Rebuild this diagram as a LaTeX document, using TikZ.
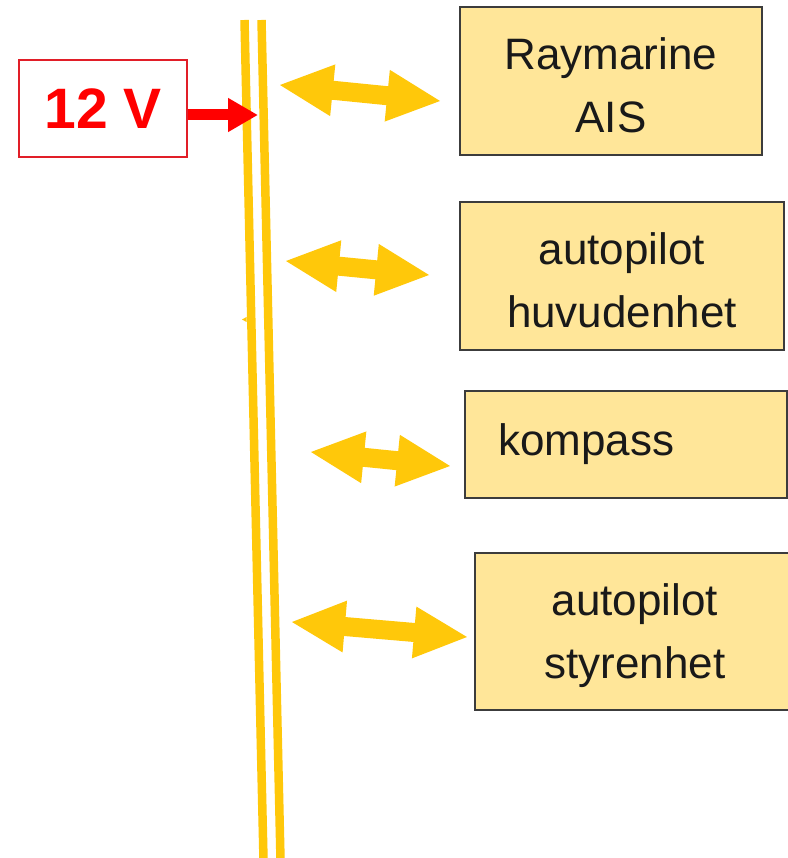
\documentclass[tikz,border=0pt]{standalone}
\usepackage{fontspec}
\setmainfont{Liberation Sans}
\usetikzlibrary{arrows.meta,calc}
\definecolor{busyellow}{RGB}{255,200,10}
\definecolor{boxfill}{RGB}{255,230,153}
\definecolor{boxline}{RGB}{60,60,60}
\definecolor{vred}{RGB}{255,0,0}
\definecolor{vbox}{RGB}{225,30,40}
\newcommand\topstrut{\rule{0pt}{40pt}}
\tikzset{
  devbox/.style={draw=boxline, fill=boxfill, line width=1.3pt, inner sep=0pt,
    align=center, text=black!90, font=\fontsize{44}{63.5}\selectfont},
  busline/.style={draw=busyellow, line width=8.5pt},
  powerbox/.style={draw=vbox, line width=1.3pt, minimum width=168pt,
    minimum height=97pt, inner sep=0pt, text=vred,
    font=\fontsize{57}{60}\selectfont\bfseries},
  feed/.style={draw=vred, line width=11pt,
    -{Triangle[length=30pt 0 0, width=32pt 0 0]}},
}
\newcommand\dblarrow[3]{\fill[busyellow, shift={(#1)}, rotate=#2]
  (0,0) -- (53,26) -- (53,9.5) -- ({#3-53},9.5) -- ({#3-53},26) -- (#3,0)
  -- ({#3-53},-26) -- ({#3-53},-9.5) -- (53,-9.5) -- (53,-26) -- cycle;}
\begin{document}
\begin{tikzpicture}[x=1pt, y=-1pt]
\useasboundingbox (0,0) rectangle (787,858);
\fill[white] (0,0) rectangle (787,858);

% bus lines
\coordinate (l1top) at (244.5,20);
\coordinate (l1bot) at (263.5,860);
\coordinate (l2top) at (261.5,20);
\coordinate (l2bot) at (280.5,860);
\draw[busline] (l1top) -- (l1bot);
\draw[busline] (l2top) -- (l2bot);
\fill[busyellow] (242,319.5) -- (246.5,317) -- (246.5,322) -- cycle;

% 12 V feed
\node[powerbox] (v12) at (103,108.5) {12 V};
\coordinate (tip) at (258,115);
\draw[feed] (v12.east |- tip) -- (tip);

% double arrows
\dblarrow{280,85}{-5.71}{160.8}
\dblarrow{286,261}{-5.59}{143.7}
\dblarrow{311,452}{-5.75}{139.7}
\dblarrow{292,622}{-4.9}{175.6}

% devices
\node[devbox, minimum width=302pt, minimum height=148pt] (ais) at (611,81)
  {\topstrut Raymarine\\AIS};
\node[devbox, minimum width=324pt, minimum height=148pt] (huvud) at (622,276)
  {\topstrut autopilot\\huvudenhet};
\node[devbox, minimum width=322pt, minimum height=107pt, inner xsep=33pt,
  text width=256pt, align=left] (kompass) at (626,444.5) {kompass};
\node[devbox, minimum width=320pt, minimum height=157pt] (styr) at (635,631.5)
  {\topstrut autopilot\\styrenhet};
\end{tikzpicture}
\end{document}
